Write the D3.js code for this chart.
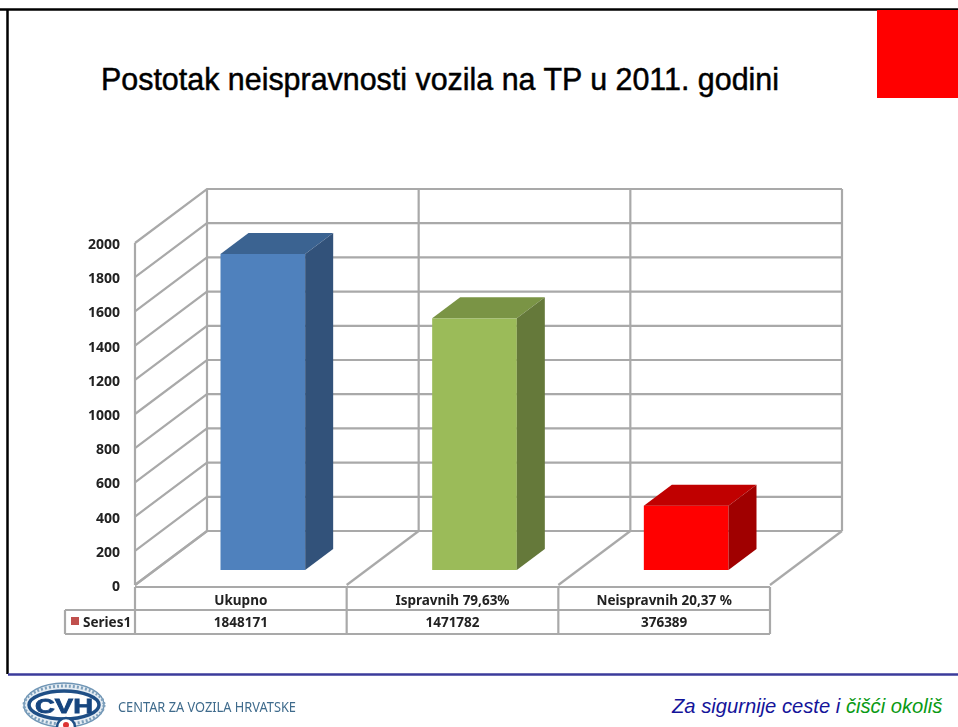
<!DOCTYPE html>
<html>
<head>
<meta charset="utf-8">
<script src="https://cdn.jsdelivr.net/npm/d3@7"></script>
<style>
  html, body { margin: 0; padding: 0; background: #fff; overflow: hidden; }
  svg { display: block; }
  .axis text { font-family: "Noto Sans", sans-serif; font-weight: 700; fill: #222; }
  .soft { filter: blur(0.4px); }
</style>
</head>
<body>
<svg id="chart" width="958" height="727"></svg>
<script>
let categories = ["Ukupno", "Ispravnih 79,63%", "Neispravnih 20,37 %"]
let seriesName = "Series1"
let rawValues = [1848171, 1471782, 376389]
let yTicks = [0, 200, 400, 600, 800, 1000, 1200, 1400, 1600, 1800, 2000]
let frontColors = ["#4f81bd", "#9bbb59", "#ff0000"]
let topColors = ["#3b6391", "#7a9445", "#c00000"]
let sideColors = ["#32527a", "#65793a", "#a00000"]

let svg = d3.select("#chart")
let grey = "#a9a9a9"

// 3d box: depth is a fixed shift from the front plane to the back wall
let depth = { x: 72, y: -54 }
let barDepth = { x: 28, y: -21 }
let barInset = { x: 22, y: -15 }

let x = d3.scaleBand()
    .domain(categories)
    .range([135, 770])

let y = d3.scaleLinear()
    .domain([0, 2000])
    .range([585, 243])

let poly = pts => pts.map(p => p.join(",")).join(" ")

// frame and slide furniture
svg.append("line").attr("x1", 0).attr("x2", 958).attr("y1", 9.5).attr("y2", 9.5)
    .style("stroke", "#000").style("stroke-width", 2.5)
svg.append("line").attr("x1", 7.5).attr("x2", 7.5).attr("y1", 9).attr("y2", 674)
    .style("stroke", "#000").style("stroke-width", 2.5)
svg.append("rect").attr("x", 877).attr("y", 10).attr("width", 81).attr("height", 88)
    .style("fill", "#ff0000")

svg.append("text")
    .attr("x", 101)
    .attr("y", 90)
    .attr("textLength", 678)
    .attr("lengthAdjust", "spacingAndGlyphs")
    .style("font-family", "'Liberation Sans', sans-serif")
    .style("font-size", "32px")
    .style("fill", "#000")
    .style("stroke", "#000")
    .style("stroke-width", 0.5)
    .text("Postotak neispravnosti vozila na TP u 2011. godini")

// back wall and side wall gridlines
let grid = svg.append("g")
    .attr("class", "soft")
    .style("fill", "none")
    .style("stroke", grey)
    .style("stroke-width", 2.2)

grid.selectAll(".wall")
    .data(yTicks)
    .join("polyline")
    .attr("class", "wall")
    .attr("points", d => poly([
      [135, y(d)],
      [135 + depth.x, y(d) + depth.y],
      [770 + depth.x, y(d) + depth.y]
    ]))

let splits = categories.map(c => x(c)).concat([x.range()[1]])

grid.selectAll(".back")
    .data(splits)
    .join("line")
    .attr("class", "back")
    .attr("x1", d => d + depth.x)
    .attr("x2", d => d + depth.x)
    .attr("y1", y(0) + depth.y)
    .attr("y2", y(2000) + depth.y)

grid.selectAll(".floor")
    .data(splits)
    .join("line")
    .attr("class", "floor")
    .attr("x1", d => d)
    .attr("x2", d => d + depth.x)
    .attr("y1", y(0))
    .attr("y2", y(0) + depth.y)

grid.append("line")
    .attr("x1", 135).attr("x2", 135)
    .attr("y1", y(2000)).attr("y2", y(0))

// bars, front + top + side
let barW = x.bandwidth() * 0.4
let bars = svg.append("g").attr("class", "soft").selectAll("g")
    .data(categories)
    .join("g")

let barX = c => x(c) + (x.bandwidth() - barW) / 2 + barInset.x
let barBase = y(0) + barInset.y
let barTop = i => barBase - (y(0) - y(rawValues[i] / 1000))

bars.append("rect")
    .attr("x", barX)
    .attr("y", (c, i) => barTop(i))
    .attr("width", barW)
    .attr("height", (c, i) => barBase - barTop(i))
    .style("fill", (c, i) => frontColors[i])

bars.append("polygon")
    .attr("points", (c, i) => poly([
      [barX(c), barTop(i)],
      [barX(c) + barDepth.x, barTop(i) + barDepth.y],
      [barX(c) + barW + barDepth.x, barTop(i) + barDepth.y],
      [barX(c) + barW, barTop(i)]
    ]))
    .style("fill", (c, i) => topColors[i])

bars.append("polygon")
    .attr("points", (c, i) => poly([
      [barX(c) + barW, barTop(i)],
      [barX(c) + barW + barDepth.x, barTop(i) + barDepth.y],
      [barX(c) + barW + barDepth.x, barBase + barDepth.y],
      [barX(c) + barW, barBase]
    ]))
    .style("fill", (c, i) => sideColors[i])

// y axis labels
let yAxisSettings = d3.axisLeft(y)
    .tickValues(yTicks)
    .tickSize(0)
    .tickPadding(15)
    .tickFormat(d3.format("d"))

let yAxisTicks = svg.append("g")
    .attr("class", "axis soft")
    .attr("transform", "translate(135,1)")
    .call(yAxisSettings)
yAxisTicks.select(".domain").remove()
yAxisTicks.selectAll("text").style("font-size", "14px")

// data table below the chart
let rowY = [587, 610, 634]
let table = svg.append("g")
    .attr("class", "soft")
    .style("stroke", grey)
    .style("stroke-width", 2.2)

table.selectAll(".hline")
    .data(rowY)
    .join("line")
    .attr("class", "hline")
    .attr("x1", (d, i) => i == 0 ? 135 : 65)
    .attr("x2", 770)
    .attr("y1", d => d)
    .attr("y2", d => d)

table.selectAll(".vline")
    .data(splits)
    .join("line")
    .attr("class", "vline")
    .attr("x1", d => d)
    .attr("x2", d => d)
    .attr("y1", rowY[0])
    .attr("y2", rowY[2])

table.append("line")
    .attr("x1", 65).attr("x2", 65)
    .attr("y1", rowY[1]).attr("y2", rowY[2])

let cells = svg.append("g")
    .attr("class", "axis soft")
    .style("font-size", "13.5px")

cells.selectAll(".cat")
    .data(categories)
    .join("text")
    .attr("class", "cat")
    .attr("x", d => x(d) + x.bandwidth() / 2)
    .attr("y", 605)
    .attr("text-anchor", "middle")
    .text(d => d)

cells.selectAll(".val")
    .data(rawValues)
    .join("text")
    .attr("class", "val")
    .attr("x", (d, i) => x(categories[i]) + x.bandwidth() / 2)
    .attr("y", 627)
    .attr("text-anchor", "middle")
    .text(d => d)

svg.append("rect").attr("x", 71).attr("y", 617).attr("width", 8).attr("height", 8)
    .style("fill", "#c0504d")
cells.append("text").attr("x", 83).attr("y", 627).text(seriesName)

// footer
svg.append("line").attr("x1", 8).attr("x2", 958).attr("y1", 674.5).attr("y2", 674.5)
    .style("stroke", "#3b3b9b").style("stroke-width", 2.5)

let logo = svg.append("g").attr("class", "soft").attr("transform", "translate(64,705)")
logo.append("ellipse").attr("rx", 40).attr("ry", 22)
    .style("fill", "#e6edf3").style("stroke", "#6f95b5").style("stroke-width", 1.5)
logo.append("ellipse").attr("rx", 40).attr("ry", 19)
    .style("fill", "none").style("stroke", "#7ea0bc").style("stroke-width", 3)
    .style("stroke-dasharray", "2 2")
logo.append("ellipse").attr("rx", 35).attr("ry", 14)
    .style("fill", "#fff").style("stroke", "#1f4f86").style("stroke-width", 3.5)
logo.append("text")
    .attr("y", 7.5)
    .attr("text-anchor", "middle")
    .attr("textLength", 58)
    .attr("lengthAdjust", "spacingAndGlyphs")
    .style("font-family", "'Liberation Sans', sans-serif")
    .style("font-weight", 700)
    .style("font-size", "21px")
    .style("fill", "#16457f")
    .style("stroke", "#16457f")
    .style("stroke-width", 0.8)
    .text("CVH")
logo.append("circle").attr("cx", 2).attr("cy", 22).attr("r", 9)
    .style("fill", "#fff").style("stroke", "#1f4f86").style("stroke-width", 2.5)
logo.append("circle").attr("cx", 2).attr("cy", 20).attr("r", 3).style("fill", "#d33")

svg.append("text")
    .attr("class", "soft")
    .attr("x", 118)
    .attr("y", 712)
    .attr("textLength", 178)
    .attr("lengthAdjust", "spacingAndGlyphs")
    .style("font-family", "'Noto Sans', sans-serif")
    .style("font-size", "14px")
    .style("fill", "#3f6b8c")
    .text("CENTAR ZA VOZILA HRVATSKE")

let slogan = svg.append("text")
    .attr("x", 672)
    .attr("y", 713)
    .style("font-family", "'Liberation Sans', sans-serif")
    .style("font-style", "italic")
    .style("font-size", "20.2px")
slogan.append("tspan").style("fill", "#14149a").text("Za sigurnije ceste i ")
slogan.append("tspan").style("fill", "#0a9a14").text("čišći okoliš")
</script>
</body>
</html>
